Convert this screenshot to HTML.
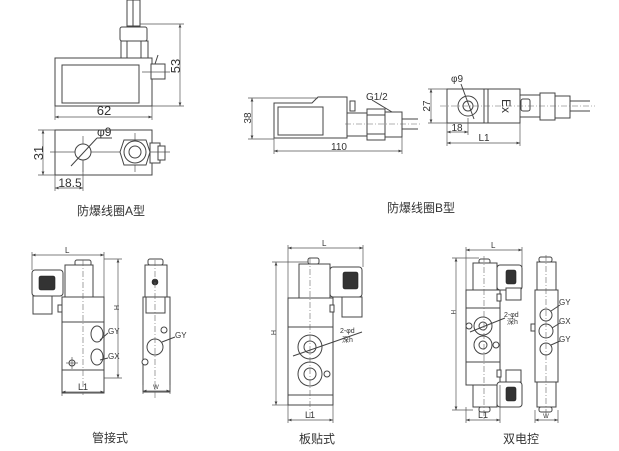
<!DOCTYPE html>
<html><head><meta charset="utf-8"><style>
html,body{margin:0;padding:0;background:#fff}
svg{display:block}
text{font-family:"Liberation Sans","Noto Sans CJK SC",sans-serif;fill:#333}
.l{stroke:#444;stroke-width:1;fill:none}
.b{stroke:#444;stroke-width:1;fill:#fff}
.d{stroke:#555;stroke-width:0.7;fill:none}
.c{stroke:#666;stroke-width:0.6;fill:none;stroke-dasharray:6 2 1 2}
.k{fill:#333;stroke:#222;stroke-width:0.6}
</style></head><body>
<svg width="619" height="451" viewBox="0 0 619 451" xmlns="http://www.w3.org/2000/svg">
<defs>
<marker id="a" markerWidth="6" markerHeight="6" refX="5" refY="3" orient="auto-start-reverse"><path d="M0,1 L5,3 L0,5 z" fill="#444"/></marker>
</defs>

<!-- ===== A type top ===== -->
<rect class="b" x="127" y="0" width="13" height="26"/>
<line class="l" x1="133" y1="0" x2="133" y2="26"/>
<rect class="b" x="120" y="27" width="27" height="14" rx="2"/>
<rect class="b" x="121" y="41" width="27" height="18"/>
<line class="l" x1="127" y1="41" x2="127" y2="59"/><line class="l" x1="141" y1="41" x2="141" y2="59"/>
<rect class="b" x="55" y="58" width="97" height="48"/>
<rect class="b" x="62" y="65" width="77" height="38"/>
<rect class="b" x="151" y="64" width="14" height="15"/>
<line class="l" x1="155" y1="64" x2="158" y2="55"/>
<line class="d" x1="142" y1="72" x2="170" y2="72"/>
<line class="d" x1="140" y1="24" x2="184" y2="24"/>
<line class="d" x1="152" y1="106" x2="184" y2="106"/>
<line class="d" x1="180" y1="24" x2="180" y2="106" marker-start="url(#a)" marker-end="url(#a)"/>
<text x="0" y="0" font-size="13" transform="translate(180,66) rotate(-90)" text-anchor="middle">53</text>
<line class="d" x1="55" y1="106" x2="55" y2="120"/><line class="d" x1="152" y1="106" x2="152" y2="120"/>
<line class="d" x1="55" y1="117" x2="152" y2="117" marker-start="url(#a)" marker-end="url(#a)"/>
<text x="104" y="115" font-size="13" text-anchor="middle">62</text>

<!-- A bottom -->
<rect class="b" x="55" y="130" width="97" height="45"/>
<rect class="b" x="150" y="143" width="10" height="20"/>
<rect class="b" x="158" y="146" width="7" height="14"/>
<line class="d" x1="50" y1="152" x2="170" y2="152"/>
<line class="d" x1="135" y1="133" x2="135" y2="172"/>
<line class="d" x1="83" y1="136" x2="83" y2="172"/>
<polygon class="b" points="124,140 146,140 150,152 146,165 124,165 120,152"/>
<circle class="b" cx="135" cy="152" r="11"/>
<circle class="b" cx="135" cy="152" r="6"/>
<circle class="b" cx="83" cy="152" r="8"/>
<line class="l" x1="71" y1="166" x2="97" y2="138"/>
<line class="l" x1="97" y1="138" x2="112" y2="138"/>
<text x="97" y="136" font-size="12">φ9</text>
<line class="d" x1="38" y1="130" x2="55" y2="130"/><line class="d" x1="38" y1="175" x2="55" y2="175"/>
<line class="d" x1="43" y1="130" x2="43" y2="175" marker-start="url(#a)" marker-end="url(#a)"/>
<text font-size="13" transform="translate(43,153) rotate(-90)" text-anchor="middle">31</text>
<line class="d" x1="55" y1="175" x2="55" y2="191"/><line class="d" x1="83" y1="160" x2="83" y2="191"/>
<line class="d" x1="55" y1="188" x2="83" y2="188" marker-start="url(#a)" marker-end="url(#a)"/>
<text x="70" y="187" font-size="12" text-anchor="middle">18.5</text>
<text x="111" y="215" font-size="12" text-anchor="middle">防爆线圈A型</text>

<!-- ===== B type side ===== -->
<path class="b" d="M274,103 L312,103 L318,97 L347,97 L347,138 L274,138 Z"/>
<rect class="b" x="278" y="107" width="45" height="28"/>
<rect class="b" x="347" y="113" width="20" height="23"/>
<rect class="b" x="350" y="101" width="5" height="10"/>
<rect class="b" x="367" y="109" width="18" height="31"/>
<line class="l" x1="367" y1="115" x2="385" y2="115"/><line class="l" x1="367" y1="134" x2="385" y2="134"/>
<rect class="b" x="385" y="112" width="17" height="25"/>
<path class="l" d="M402,119 L418,119 M402,129 L418,129"/>
<line class="c" x1="345" y1="124" x2="420" y2="124"/>
<line class="l" x1="372" y1="100" x2="392" y2="112"/>
<text x="366" y="100" font-size="10">G1/2</text>
<line class="d" x1="248" y1="98" x2="318" y2="98"/><line class="d" x1="248" y1="139" x2="274" y2="139"/>
<line class="d" x1="252" y1="98" x2="252" y2="139" marker-start="url(#a)" marker-end="url(#a)"/>
<text font-size="10" transform="translate(251,118) rotate(-90)" text-anchor="middle">38</text>
<line class="d" x1="274" y1="138" x2="274" y2="154"/><line class="d" x1="402" y1="137" x2="402" y2="154"/>
<line class="d" x1="274" y1="151" x2="402" y2="151" marker-start="url(#a)" marker-end="url(#a)"/>
<text x="339" y="150" font-size="10" text-anchor="middle">110</text>

<!-- B end view -->
<rect class="b" x="447" y="89" width="73" height="34"/>
<line class="l" x1="484" y1="89" x2="484" y2="123"/>
<line class="l" x1="488" y1="89" x2="488" y2="123"/>
<circle class="b" cx="468" cy="106" r="10"/>
<circle class="b" cx="468" cy="106" r="5"/>
<line class="l" x1="461" y1="84" x2="474" y2="119"/>
<text x="451" y="82" font-size="10">φ9</text>
<text font-size="12" font-family="Liberation Serif" transform="translate(502,106) rotate(90)" text-anchor="middle">Ex</text>
<rect class="b" x="520" y="95" width="20" height="22"/>
<rect class="b" x="521" y="99" width="9" height="12" rx="2"/>
<rect class="b" x="540" y="93" width="15" height="27"/>
<rect class="b" x="555" y="96" width="15" height="22"/>
<path class="l" d="M570,101 L590,101 M570,111 L590,111"/>
<line class="c" x1="440" y1="106" x2="595" y2="106"/>
<line class="d" x1="428" y1="89" x2="447" y2="89"/><line class="d" x1="428" y1="123" x2="447" y2="123"/>
<line class="d" x1="431" y1="89" x2="431" y2="123" marker-start="url(#a)" marker-end="url(#a)"/>
<text font-size="10" transform="translate(430,106) rotate(-90)" text-anchor="middle">27</text>
<line class="d" x1="447" y1="123" x2="447" y2="146"/><line class="d" x1="468" y1="118" x2="468" y2="135"/><line class="d" x1="520" y1="123" x2="520" y2="146"/>
<line class="d" x1="447" y1="132" x2="468" y2="132" marker-start="url(#a)" marker-end="url(#a)"/>
<text x="457" y="131" font-size="10" text-anchor="middle">18</text>
<line class="d" x1="447" y1="143" x2="520" y2="143" marker-start="url(#a)" marker-end="url(#a)"/>
<text x="484" y="141" font-size="10" text-anchor="middle">L1</text>
<text x="421" y="212" font-size="12" text-anchor="middle">防爆线圈B型</text>

<!-- ===== 管接式 ===== -->
<line class="d" x1="32" y1="252" x2="32" y2="270"/><line class="d" x1="104" y1="252" x2="104" y2="297"/>
<line class="d" x1="32" y1="255" x2="104" y2="255" marker-start="url(#a)" marker-end="url(#a)"/>
<text x="65" y="253" font-size="8">L</text>
<rect class="b" x="75" y="260" width="16" height="6" rx="2"/>
<rect class="b" x="65" y="265" width="28" height="33"/>
<rect class="b" x="32" y="270" width="31" height="26" rx="3"/>
<rect class="k" x="39" y="276" width="16" height="14" rx="2"/>
<rect class="b" x="33" y="296" width="19" height="18"/>
<rect class="b" x="62" y="297" width="42" height="96"/>
<line class="l" x1="62" y1="322" x2="104" y2="322"/><line class="l" x1="62" y1="370" x2="104" y2="370"/>
<rect class="b" x="58" y="305" width="4" height="7"/>
<ellipse class="b" cx="97" cy="334" rx="6" ry="8"/><ellipse class="b" cx="97" cy="357" rx="6" ry="8"/>
<line class="c" x1="83" y1="260" x2="83" y2="395"/>
<circle class="b" cx="72" cy="363" r="3"/>
<line class="d" x1="66" y1="363" x2="78" y2="363"/><line class="d" x1="72" y1="357" x2="72" y2="369"/>
<line class="l" x1="100" y1="340" x2="108" y2="333"/><text x="108" y="334" font-size="8">GY</text>
<line class="l" x1="100" y1="360" x2="108" y2="358"/><text x="108" y="359" font-size="8">GX</text>
<line class="d" x1="104" y1="259" x2="122" y2="259"/><line class="d" x1="104" y1="378" x2="122" y2="378"/>
<line class="d" x1="118" y1="259" x2="118" y2="378" marker-start="url(#a)" marker-end="url(#a)"/>
<text x="114" y="305" font-size="7" transform="rotate(90 114 305)">H</text>
<line class="d" x1="62" y1="393" x2="62" y2="396"/>
<line class="d" x1="62" y1="392" x2="104" y2="392" marker-start="url(#a)" marker-end="url(#a)"/>
<text x="83" y="390" font-size="9" text-anchor="middle">L1</text>
<!-- side -->
<rect class="b" x="148" y="259" width="15" height="6" rx="2"/>
<rect class="b" x="145" y="265" width="22" height="32"/>
<circle class="k" cx="155" cy="282" r="3"/>
<rect class="b" x="143" y="297" width="27" height="95"/>
<rect class="b" x="146" y="297" width="19" height="16"/>
<circle class="b" cx="155" cy="347" r="8"/>
<circle class="b" cx="164" cy="330" r="3"/><circle class="b" cx="145" cy="362" r="3"/>
<line class="c" x1="155" y1="260" x2="155" y2="398"/>
<line class="l" x1="162" y1="342" x2="175" y2="337"/><text x="175" y="338" font-size="8">GY</text>
<line class="d" x1="143" y1="385" x2="143" y2="394"/><line class="d" x1="170" y1="385" x2="170" y2="394"/>
<line class="d" x1="143" y1="391" x2="170" y2="391" marker-start="url(#a)" marker-end="url(#a)"/>
<text x="156" y="389" font-size="6" text-anchor="middle">W</text>
<text x="110" y="442" font-size="12" text-anchor="middle">管接式</text>

<!-- ===== 板贴式 ===== -->
<line class="d" x1="288" y1="245" x2="288" y2="298"/><line class="d" x1="363" y1="245" x2="363" y2="267"/>
<line class="d" x1="288" y1="248" x2="363" y2="248" marker-start="url(#a)" marker-end="url(#a)"/>
<text x="322" y="246" font-size="8">L</text>
<rect class="b" x="308" y="258" width="11" height="6" rx="2"/>
<rect class="b" x="299" y="264" width="31" height="34"/>
<rect class="b" x="330" y="267" width="32" height="30" rx="3"/>
<rect class="k" x="343" y="272" width="15" height="17" rx="2"/>
<rect class="b" x="342" y="297" width="20" height="20"/>
<rect class="b" x="288" y="298" width="45" height="107"/>
<line class="l" x1="288" y1="327" x2="333" y2="327"/><line class="l" x1="288" y1="395" x2="333" y2="395"/>
<rect class="b" x="330" y="305" width="4" height="7"/>
<circle class="b" cx="310" cy="347" r="12"/><circle class="b" cx="310" cy="347" r="6"/>
<circle class="b" cx="310" cy="374" r="12"/><circle class="b" cx="310" cy="374" r="6"/>
<circle class="b" cx="327" cy="374" r="3"/>
<line class="c" x1="310" y1="258" x2="310" y2="420"/>
<line class="l" x1="293" y1="356" x2="362" y2="332"/>
<text x="340" y="333" font-size="7">2-φd</text><text x="342" y="342" font-size="7">深h</text>
<line class="d" x1="272" y1="262" x2="308" y2="262"/><line class="d" x1="272" y1="405" x2="288" y2="405"/>
<line class="d" x1="276" y1="262" x2="276" y2="405" marker-start="url(#a)" marker-end="url(#a)"/>
<text x="271" y="330" font-size="7" transform="rotate(90 271 330)">H</text>
<line class="d" x1="288" y1="405" x2="288" y2="423"/><line class="d" x1="333" y1="405" x2="333" y2="423"/>
<line class="d" x1="288" y1="420" x2="333" y2="420" marker-start="url(#a)" marker-end="url(#a)"/>
<text x="310" y="418" font-size="9" text-anchor="middle">L1</text>
<text x="317" y="443" font-size="12" text-anchor="middle">板贴式</text>

<!-- ===== 双电控 ===== -->
<line class="d" x1="466" y1="247" x2="466" y2="290"/><line class="d" x1="522" y1="247" x2="522" y2="267"/>
<line class="d" x1="466" y1="250" x2="522" y2="250" marker-start="url(#a)" marker-end="url(#a)"/>
<text x="491" y="248" font-size="8">L</text>
<rect class="b" x="479" y="259" width="11" height="5" rx="2"/>
<rect class="b" x="473" y="263" width="24" height="27"/>
<rect class="b" x="497" y="265" width="25" height="25" rx="3"/>
<rect class="k" x="506" y="270" width="10" height="14" rx="2"/>
<rect class="b" x="506" y="288" width="15" height="12"/>
<rect class="b" x="466" y="290" width="34" height="95"/>
<line class="l" x1="466" y1="308" x2="500" y2="308"/><line class="l" x1="466" y1="362" x2="500" y2="362"/>
<rect class="b" x="497" y="294" width="4" height="7"/><rect class="b" x="497" y="370" width="4" height="7"/>
<circle class="b" cx="483" cy="326" r="9"/><circle class="b" cx="483" cy="326" r="4"/>
<circle class="b" cx="483" cy="345" r="9"/><circle class="b" cx="483" cy="345" r="4"/>
<circle class="b" cx="469" cy="326" r="3"/><circle class="b" cx="496" cy="345" r="3"/>
<line class="l" x1="470" y1="332" x2="505" y2="318"/>
<text x="504" y="317" font-size="7">2-φd</text><text x="507" y="324" font-size="7">深h</text>
<rect class="b" x="506" y="370" width="15" height="12"/>
<rect class="b" x="473" y="385" width="24" height="22"/>
<rect class="b" x="497" y="382" width="25" height="25" rx="3"/>
<rect class="k" x="506" y="387" width="10" height="14" rx="2"/>
<rect class="b" x="479" y="407" width="11" height="5" rx="2"/>
<line class="c" x1="484" y1="256" x2="484" y2="420"/>
<line class="d" x1="452" y1="258" x2="479" y2="258"/><line class="d" x1="452" y1="410" x2="473" y2="410"/>
<line class="d" x1="456" y1="258" x2="456" y2="410" marker-start="url(#a)" marker-end="url(#a)"/>
<text x="451" y="310" font-size="6" transform="rotate(90 451 310)">H</text>
<line class="d" x1="466" y1="407" x2="466" y2="423"/><line class="d" x1="500" y1="385" x2="500" y2="423"/>
<line class="d" x1="466" y1="420" x2="500" y2="420" marker-start="url(#a)" marker-end="url(#a)"/>
<text x="483" y="418" font-size="9" text-anchor="middle">L1</text>
<!-- side -->
<rect class="b" x="539" y="257" width="13" height="5" rx="2"/>
<rect class="b" x="537" y="262" width="19" height="28"/>
<rect class="b" x="535" y="290" width="23" height="92"/>
<rect class="b" x="531" y="324" width="4" height="7"/>
<circle class="b" cx="546" cy="315" r="6"/><circle class="b" cx="546" cy="331" r="7"/><circle class="b" cx="546" cy="349" r="6"/>
<line class="l" x1="551" y1="311" x2="560" y2="305"/><text x="559" y="305" font-size="8">GY</text>
<line class="l" x1="552" y1="328" x2="560" y2="323"/><text x="559" y="324" font-size="8">GX</text>
<line class="l" x1="551" y1="345" x2="560" y2="341"/><text x="559" y="342" font-size="8">GY</text>
<rect class="b" x="537" y="382" width="19" height="25"/>
<rect class="b" x="539" y="407" width="13" height="5" rx="2"/>
<line class="c" x1="546" y1="255" x2="546" y2="418"/>
<line class="d" x1="535" y1="410" x2="535" y2="423"/><line class="d" x1="558" y1="410" x2="558" y2="423"/>
<line class="d" x1="535" y1="420" x2="558" y2="420" marker-start="url(#a)" marker-end="url(#a)"/>
<text x="546" y="418" font-size="6" text-anchor="middle">W</text>
<text x="521" y="443" font-size="12" text-anchor="middle">双电控</text>
</svg>
</body></html>
